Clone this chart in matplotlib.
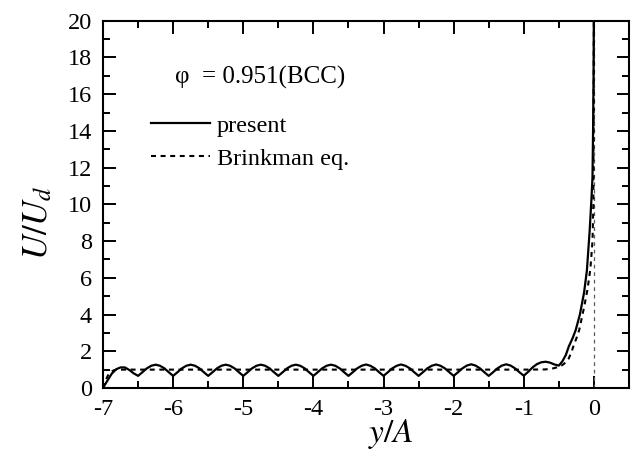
import numpy as np
import matplotlib
matplotlib.use("Agg")
import matplotlib.pyplot as plt
from matplotlib.ticker import MultipleLocator

plt.rcParams["font.family"] = ["Liberation Serif", "DejaVu Serif"]
plt.rcParams["mathtext.fontset"] = "stix"

# present solution: sampled every 1/16 from the wall (y/A = -7) to -0.5
present_y_wall = [
    0.00, 0.40, 0.78, 1.02, 1.12, 1.12, 0.98, 0.80,   # -7.0
    0.66, 0.86, 1.07, 1.21, 1.27, 1.21, 1.07, 0.86,   # -6.5
    0.66, 0.86, 1.07, 1.21, 1.27, 1.21, 1.07, 0.86,   # -6.0
    0.66, 0.86, 1.07, 1.21, 1.27, 1.21, 1.07, 0.86,   # -5.5
    0.66, 0.86, 1.07, 1.21, 1.27, 1.21, 1.07, 0.86,   # -5.0
    0.66, 0.86, 1.07, 1.21, 1.27, 1.21, 1.07, 0.86,   # -4.5
    0.66, 0.86, 1.07, 1.21, 1.27, 1.21, 1.07, 0.86,   # -4.0
    0.66, 0.86, 1.07, 1.21, 1.28, 1.21, 1.07, 0.86,   # -3.5
    0.66, 0.86, 1.07, 1.21, 1.28, 1.21, 1.07, 0.86,   # -3.0
    0.66, 0.86, 1.07, 1.21, 1.28, 1.21, 1.07, 0.86,   # -2.5
    0.66, 0.86, 1.07, 1.22, 1.29, 1.22, 1.07, 0.86,   # -2.0
    0.66, 0.86, 1.07, 1.22, 1.29, 1.22, 1.07, 0.86,   # -1.5
    0.67, 0.88, 1.12, 1.30, 1.40, 1.43, 1.38, 1.28,   # -1.0
    1.22,                                             # -0.5
]
present_x_wall = -7.0 + np.arange(len(present_y_wall)) / 16.0

# present solution: steep rise towards the interface
present_x_rise = [-0.45, -0.40, -0.36, -0.30, -0.26, -0.20, -0.14, -0.10,
                  -0.06, -0.035, -0.02, -0.012, -0.005, 0.0]
present_y_rise = [1.45, 1.80, 2.24, 2.75, 3.15, 4.0, 5.2, 6.4,
                  8.6, 10.3, 11.5, 14.0, 17.0, 21.0]

# Brinkman equation
brink_x = [-7.0, -6.96, -6.92, -6.88, -6.84, -6.80, -6.0, -5.0, -4.0, -3.0,
           -2.0, -1.0, -0.7, -0.6, -0.5, -0.45, -0.40, -0.36, -0.32, -0.29,
           -0.25, -0.21, -0.14, -0.09, -0.05, -0.02, -0.008, 0.0]
brink_y = [0.0, 0.45, 0.75, 0.90, 0.97, 1.0, 1.0, 1.0, 1.0, 1.0,
           1.0, 1.0, 1.01, 1.05, 1.15, 1.25, 1.40, 1.60, 1.95, 2.30,
           2.70, 3.15, 4.40, 5.40, 6.50, 8.00, 10.0, 21.0]

present_x = np.concatenate([present_x_wall, present_x_rise])
present_y = np.concatenate([present_y_wall, present_y_rise])

fig = plt.figure(figsize=(6.37, 4.5), dpi=100)
ax = fig.add_axes([0.1617, 0.1378, 0.8257, 0.8162])

ax.axvline(0.0, color="0.35", lw=0.9, ls=(0, (3, 3)))
ax.plot(present_x, present_y, color="black", lw=1.6, label="present")
ax.plot(brink_x, brink_y, color="black", lw=1.5, ls=(0, (2.4, 2.2)),
        label="Brinkman eq.")

ax.set_xlim(-7, 0.5)
ax.set_ylim(0, 20)
ax.xaxis.set_major_locator(MultipleLocator(1))
ax.xaxis.set_minor_locator(MultipleLocator(0.5))
ax.yaxis.set_major_locator(MultipleLocator(2))
ax.yaxis.set_minor_locator(MultipleLocator(1))
ax.set_xticks(np.arange(-7, 1, 1))
ax.set_xticklabels([str(v) for v in range(-7, 1)])
ax.tick_params(which="both", direction="in", top=True, right=True, width=1.4)
ax.tick_params(which="major", length=9, labelsize=17.5, pad=8)
ax.tick_params(which="minor", length=5)
for s in ax.spines.values():
    s.set_linewidth(1.5)

ax.set_xlabel(r"$y/A$", fontsize=24)
ax.xaxis.set_label_coords(0.548, -0.078)
ax.set_ylabel(r"$U/U_d$", fontsize=25)
ax.yaxis.set_label_coords(-0.09, 0.45)

ax.text(0.137, 0.845, "φ  = 0.951(BCC)", transform=ax.transAxes,
        fontsize=18, va="center", ha="left")
ax.legend(loc="upper left", bbox_to_anchor=(0.092, 0.744), frameon=False,
          fontsize=17.5, handlelength=2.4, handletextpad=0.3, labelspacing=0.45,
          borderpad=0, borderaxespad=0)

fig.savefig("out.png", dpi=100)
